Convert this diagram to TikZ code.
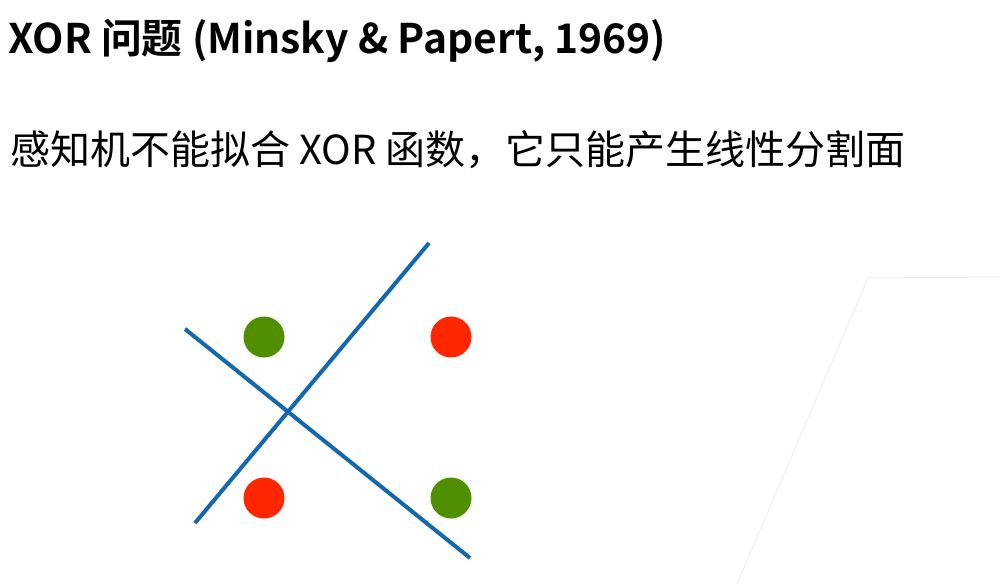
\documentclass[tikz,border=0pt]{standalone}
\usepackage{fontspec}
\setmainfont{Noto Sans CJK SC}[BoldFont={* Bold}]
\definecolor{lineblue}{HTML}{1368B0}
\definecolor{dotgreen}{HTML}{4F8F00}
\definecolor{dotred}{HTML}{FF2600}
\definecolor{faint}{HTML}{EEEEEE}
\tikzset{
  sepline/.style={draw=lineblue, line width=4pt},
  dot/.style={circle, fill=#1, minimum size=41pt, inner sep=0pt},
  titletext/.style={anchor=base west, inner sep=0pt, font=\fontsize{40.8}{45}\selectfont\bfseries},
  subtext/.style={anchor=base west, inner sep=0pt, font=\fontsize{40}{44}\selectfont},
}
\begin{document}
\begin{tikzpicture}[x=1pt,y=-1pt]
\useasboundingbox (0,0) rectangle (1000,584);
\draw[faint, line width=1pt] (737,584) -- (868,278) -- (1000,277);
\node[titletext] (title) at (8,53) {XOR 问题 (Minsky \& Papert, 1969)};
\node[subtext] (sub) at (10,164) {感知机不能拟合 XOR 函数，它只能产生线性分割面};
\coordinate (a1) at (185,329);
\coordinate (a2) at (470,558);
\coordinate (b1) at (195,523);
\coordinate (b2) at (429,243);
\draw[sepline] (a1) -- (a2);
\draw[sepline] (b1) -- (b2);
\node[dot=dotgreen] (g1) at (264,337) {};
\node[dot=dotred] (r1) at (451,337) {};
\node[dot=dotred] (r2) at (264,498) {};
\node[dot=dotgreen] (g2) at (451,498) {};
\end{tikzpicture}
\end{document}
